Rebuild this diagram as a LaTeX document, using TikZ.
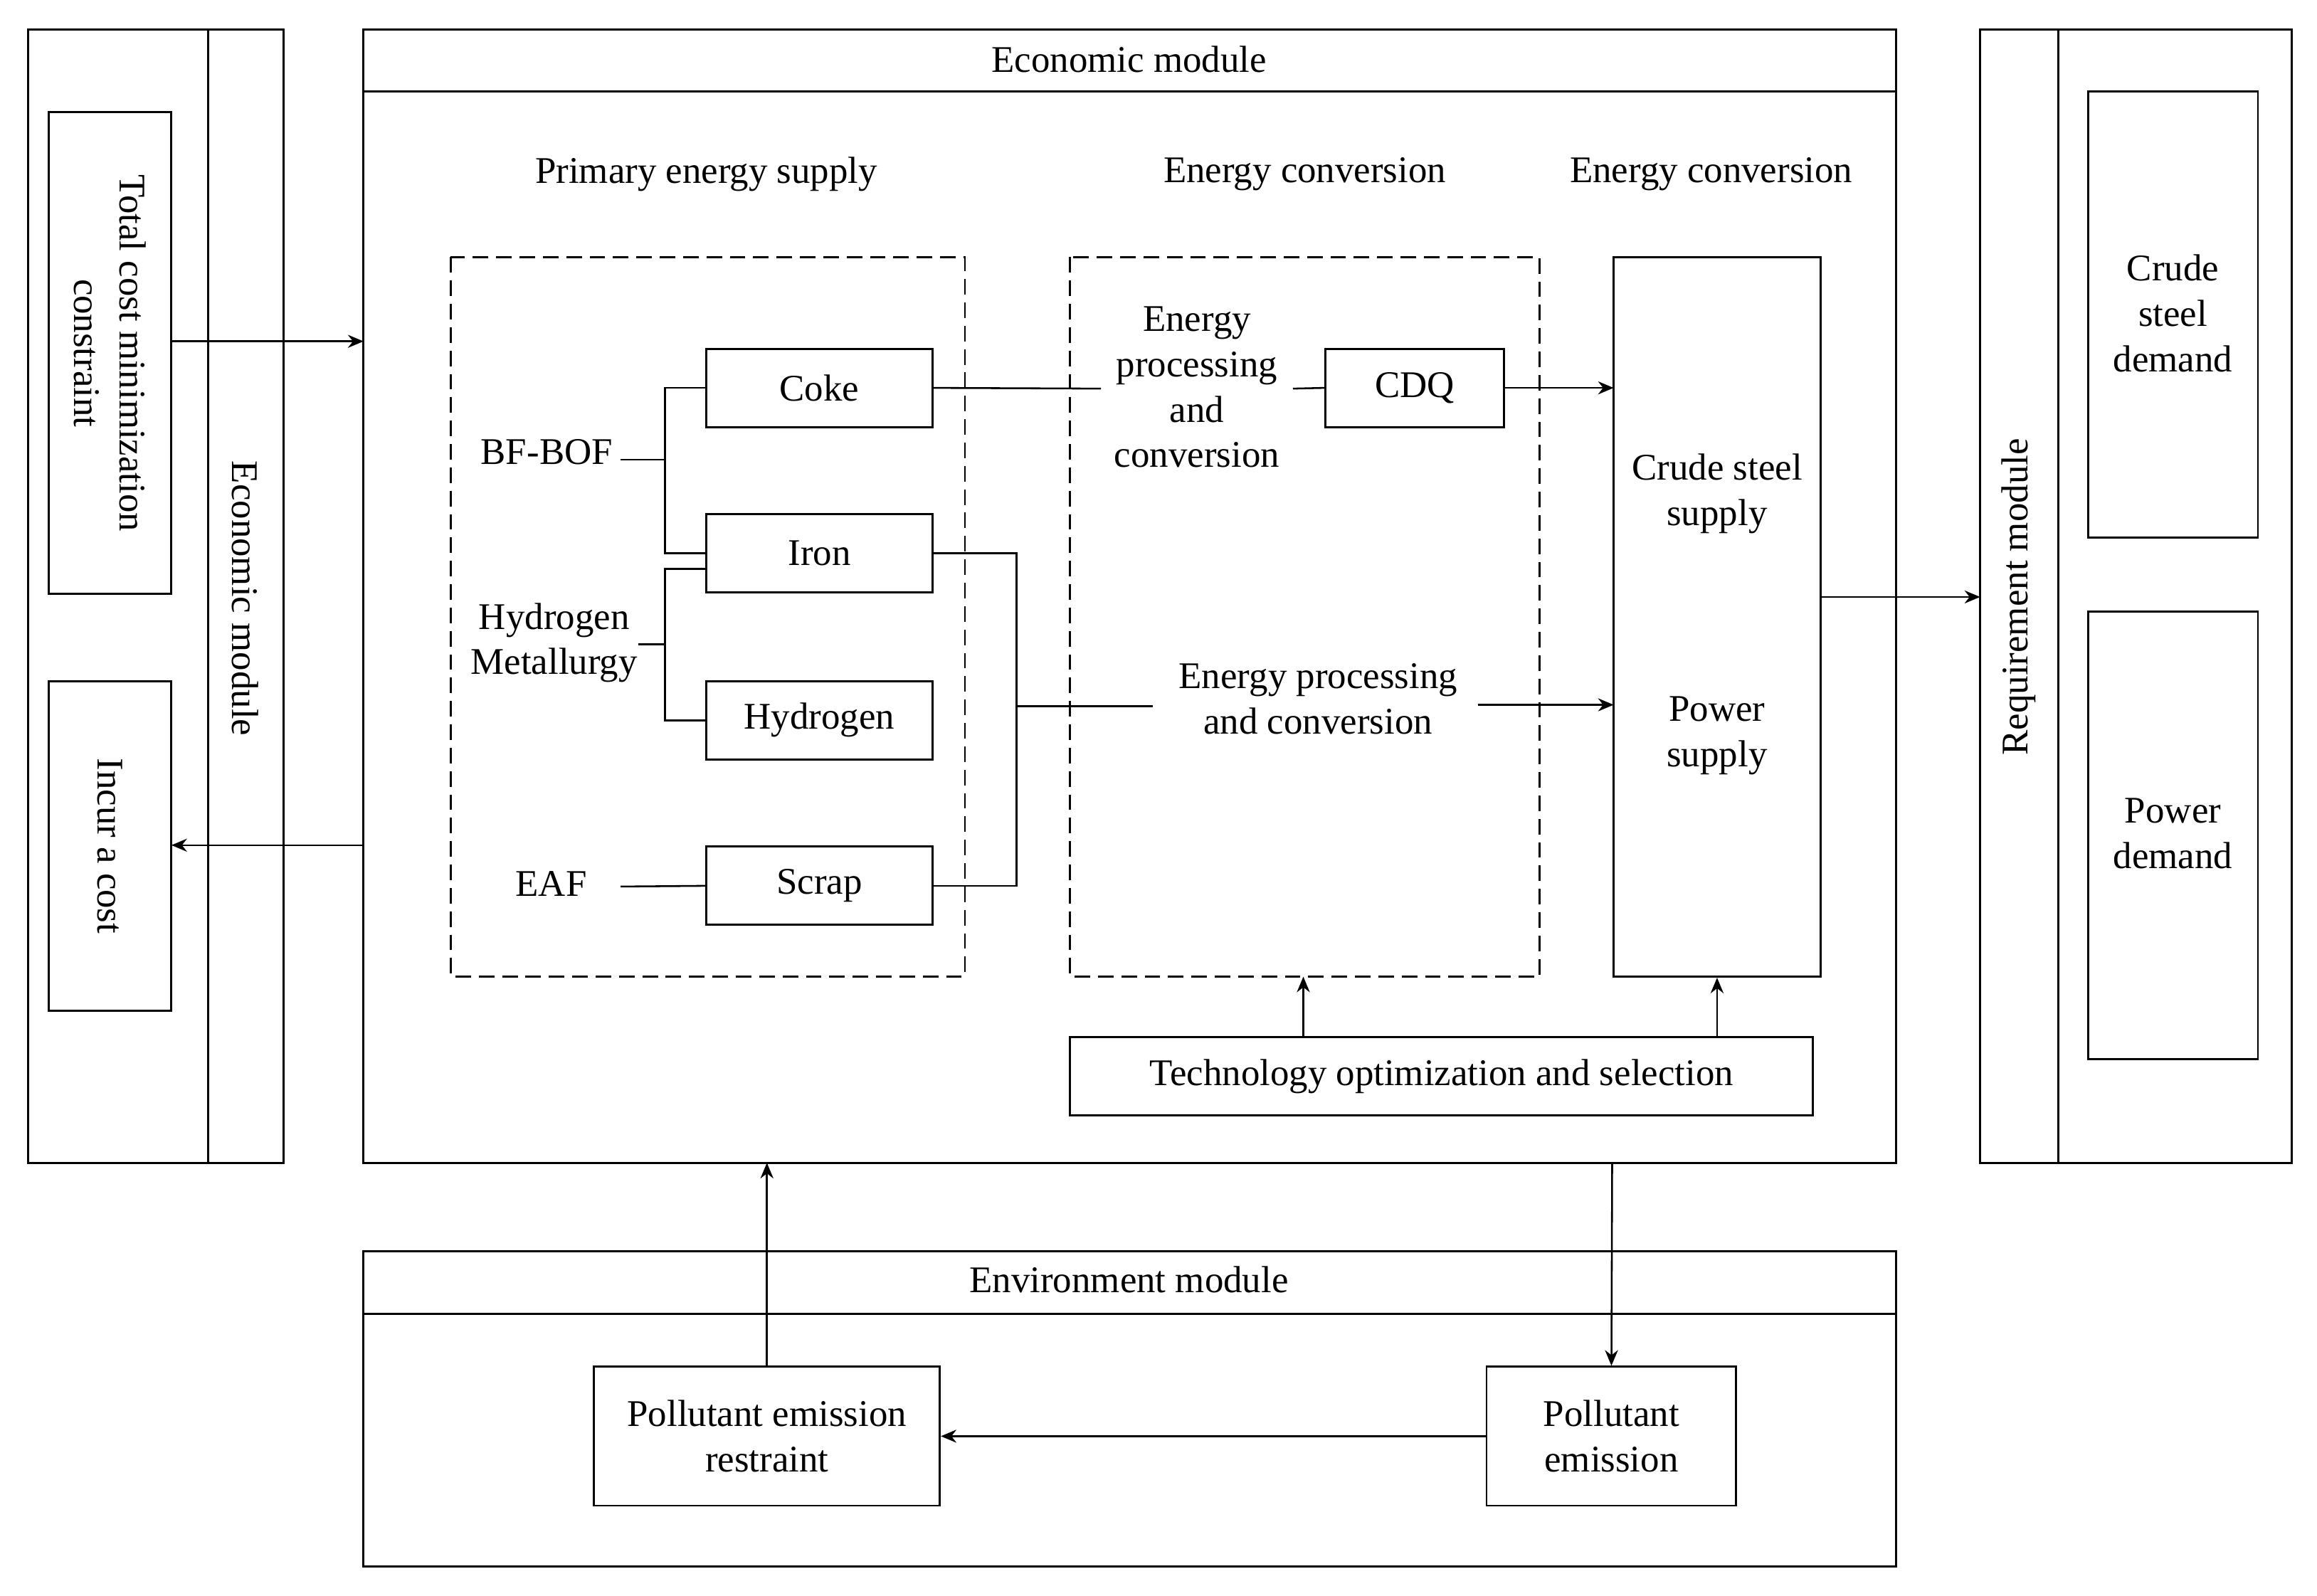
\documentclass[tikz,border=0pt]{standalone}
\usepackage{fontspec}
\setmainfont{Liberation Serif}
\usetikzlibrary{arrows.meta}
\begin{document}
\begin{tikzpicture}[x=0.02cm,y=-0.02cm,
  box/.style={draw,line width=0.8pt},
  dbox/.style={draw,line width=0.8pt,dash pattern=on 6pt off 3pt},
  ln/.style={draw,line width=0.7pt},
  ar/.style={draw,line width=0.7pt,-{Stealth[length=6pt,width=5pt]}},
  txt/.style={font=\fontsize{14.5}{17.5}\selectfont,align=center,inner sep=1pt}]
\useasboundingbox[fill=white] (0,0) rectangle (1568,1080);
% left module
\draw[box] (19,20) rectangle (192,787);
\draw[box] (141,20) -- (141,787);
\node[box,minimum width=83*0.02cm,minimum height=326*0.02cm] (tc) at (74.5,239) {};
\node[txt,rotate=-90] at (tc) {Total cost minimization\\constraint};
\node[box,minimum width=83*0.02cm,minimum height=223*0.02cm] (ic) at (74.5,572.5) {};
\node[txt,rotate=-90] at (ic) {Incur a cost};
\node[txt,rotate=-90] (em) at (166,405) {Economic module};
% economic module
\draw[box] (246,20) rectangle (1283,787);
\draw[box] (246,62) -- (1283,62);
\node[txt] (emt) at (764,40) {Economic module};
\node[txt] (h1) at (478,118) {Primary energy supply};
\node[txt] (h2) at (883,118) {Energy conversion};
\node[txt] (h3) at (1158,118) {Energy conversion};
\draw[dbox] (305,174) rectangle (653,661);
\draw[dbox] (724,174) rectangle (1042,661);
\coordinate (d2b) at (882,661);
\tikzset{sb/.style={box,minimum width=153*0.02cm,minimum height=53*0.02cm,txt}}
\node[sb] (coke) at (554.5,262.5) {Coke};
\node[sb] (iron) at (554.5,374.5) {Iron};
\node[sb] (hyd) at (554.5,487.5) {Hydrogen};
\node[sb] (scrap) at (554.5,599.5) {Scrap};
\node[txt] (bf) at (370,306) {BF-BOF};
\node[txt] (hm) at (375,435) {Hydrogen\\Metallurgy};
\node[txt] (eaf) at (373,598) {EAF};
\draw[ln] (420,311) -- (450,311);
\draw[ln] (coke.west) -- (450,262.5) -- (450,374.5) -- (iron.west);
\draw[ln] (432,436) -- (450,436);
\draw[ln] (iron.west|-0,385) -- (450,385) -- (450,487.5) -- (hyd.west);
\draw[ln] (420,600) -- (scrap.west);
\node[txt] (ep1) at (810,262) {Energy\\processing\\and\\conversion};
\node[box,minimum width=121*0.02cm,minimum height=53*0.02cm,txt] (cdq) at (957.5,262.5) {CDQ};
\draw[ln] (coke.east) -- (745,263);
\draw[ln] (875,263) -- (cdq.west);
\node[box,minimum width=140*0.02cm,minimum height=487*0.02cm] (sup) at (1162,417.5) {};
\node[txt] (cs) at (1162,334) {Crude steel\\supply};
\node[txt] (ps) at (1162,498) {Power\\supply};
\draw[ar] (cdq.east) -- (1092,262.5);
\draw[ln] (iron.east) -- (688,374.5) -- (688,599.5) -- (scrap.east);
\node[txt] (ep2) at (892,473) {Energy processing\\and conversion};
\draw[ln] (688,478) -- (780,478);
\draw[ar] (1000,477) -- (1092,477);
\node[box,minimum width=503*0.02cm,minimum height=53*0.02cm,txt] (tech) at (975.5,728.5) {Technology optimization and selection};
\draw[ar] (tech.north-|d2b) -- (d2b);
\draw[ar] (tech.north-|sup) -- (sup.south);
% requirement
\draw[box] (1340,20) rectangle (1551,787);
\draw[box] (1393,20) -- (1393,787);
\node[txt,rotate=90] (rm) at (1366,404) {Requirement module};
\node[box,minimum width=115*0.02cm,minimum height=302*0.02cm] (csd) at (1470.5,213) {};
\node[txt] at (1470.5,212) {Crude\\steel\\demand};
\node[box,minimum width=115*0.02cm,minimum height=303*0.02cm] (pd) at (1470.5,565.5) {};
\node[txt] at (1470.5,564) {Power\\demand};
\draw[ar] (sup.east|-0,404) -- (1340,404);
\draw[ar] (116,231) -- (246,231);
\draw[ar] (246,572) -- (116,572);
% environment
\draw[box] (246,847) rectangle (1283,1060);
\draw[box] (246,889) -- (1283,889);
\node[txt] (envt) at (764,866) {Environment module};
\node[box,minimum width=234*0.02cm,minimum height=94*0.02cm,txt] (per) at (519,972) {Pollutant emission\\restraint};
\node[box,minimum width=169*0.02cm,minimum height=94*0.02cm,txt] (pe) at (1090.5,972) {Pollutant\\emission};
\draw[ar] (pe.west) -- (per.east);
\draw[ar] (per.north) -- (519,787);
\draw[ar] (1091,787) -- (pe.north);
\end{tikzpicture}
\end{document}
